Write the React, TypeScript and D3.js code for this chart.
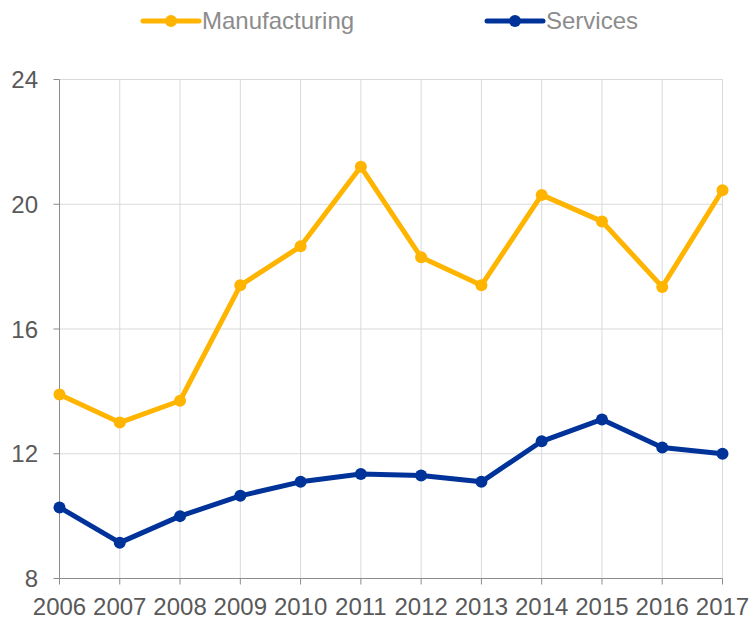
import React from "react";
import * as d3 from "d3";

const years = [2006, 2007, 2008, 2009, 2010, 2011, 2012, 2013, 2014, 2015, 2016, 2017];
const manufacturing = [13.9, 13.0, 13.7, 17.4, 18.65, 21.2, 18.3, 17.4, 20.3, 19.45, 17.35, 20.45];
const services = [10.28, 9.15, 10.0, 10.65, 11.1, 11.35, 11.3, 11.1, 12.4, 13.1, 12.2, 12.0];
const yTicks = [8, 12, 16, 20, 24];

const seriesList = [
  { name: "Manufacturing", values: manufacturing, color: "#FFB400", lx: 143 },
  { name: "Services", values: services, color: "#003399", lx: 487 },
];

export default function App() {
  const W = 750, H = 622;
  const x = d3.scaleLinear().domain([2006, 2017]).range([59.5, 722.5]);
  const y = d3.scaleLinear().domain([8, 24]).range([578.5, 79.5]);
  const line = d3.line<number>().x((_, i) => x(years[i])).y((d) => y(d));
  const font = "Liberation Sans, Arial, sans-serif";
  return (
    <svg width={W} height={H} style={{ position: "absolute", left: 0, top: 0, background: "#fff" }}>
      {/* grid */}
      {yTicks.map((t) => (
        <line key={"h" + t} x1={x(2006)} x2={x(2017)} y1={y(t)} y2={y(t)} stroke="#d9d9d9" strokeWidth={1} />
      ))}
      {years.map((yr) => (
        <line key={"v" + yr} x1={x(yr)} x2={x(yr)} y1={y(24)} y2={y(8)} stroke="#d9d9d9" strokeWidth={1} />
      ))}
      {/* axes */}
      <line x1={x(2006)} x2={x(2006)} y1={y(24)} y2={y(8)} stroke="#8c8c8c" strokeWidth={1} />
      <line x1={x(2006)} x2={x(2017)} y1={y(8)} y2={y(8)} stroke="#8c8c8c" strokeWidth={1} />
      {yTicks.map((t) => (
        <g key={"yt" + t}>
          <line x1={x(2006) - 6} x2={x(2006)} y1={y(t)} y2={y(t)} stroke="#8c8c8c" />
          <text x={38} y={y(t) + 8.5} textAnchor="end" fontSize={24} fontFamily={font} fill="#595959">{t}</text>
        </g>
      ))}
      {years.map((yr) => (
        <g key={"xt" + yr}>
          <line x1={x(yr)} x2={x(yr)} y1={y(8)} y2={y(8) + 6} stroke="#8c8c8c" />
          <text x={x(yr)} y={615} textAnchor="middle" fontSize={24} fontFamily={font} fill="#595959">{yr}</text>
        </g>
      ))}
      {/* series */}
      {seriesList.map((s) => (
        <g key={s.name}>
          <path d={line(s.values) || ""} fill="none" stroke={s.color} strokeWidth={5} strokeLinejoin="round" />
          {s.values.map((v, i) => (
            <circle key={i} cx={x(years[i])} cy={y(v)} r={6} fill={s.color} />
          ))}
        </g>
      ))}
      {/* legend */}
      {seriesList.map((s) => (
        <g key={"lg" + s.name}>
          <line x1={s.lx} x2={s.lx + 56} y1={21} y2={21} stroke={s.color} strokeWidth={5} strokeLinecap="round" />
          <circle cx={s.lx + 28} cy={21} r={6} fill={s.color} />
          <text x={s.lx + 59} y={29} fontSize={24} fontFamily={font} fill="#8c8c8c">{s.name}</text>
        </g>
      ))}
    </svg>
  );
}
